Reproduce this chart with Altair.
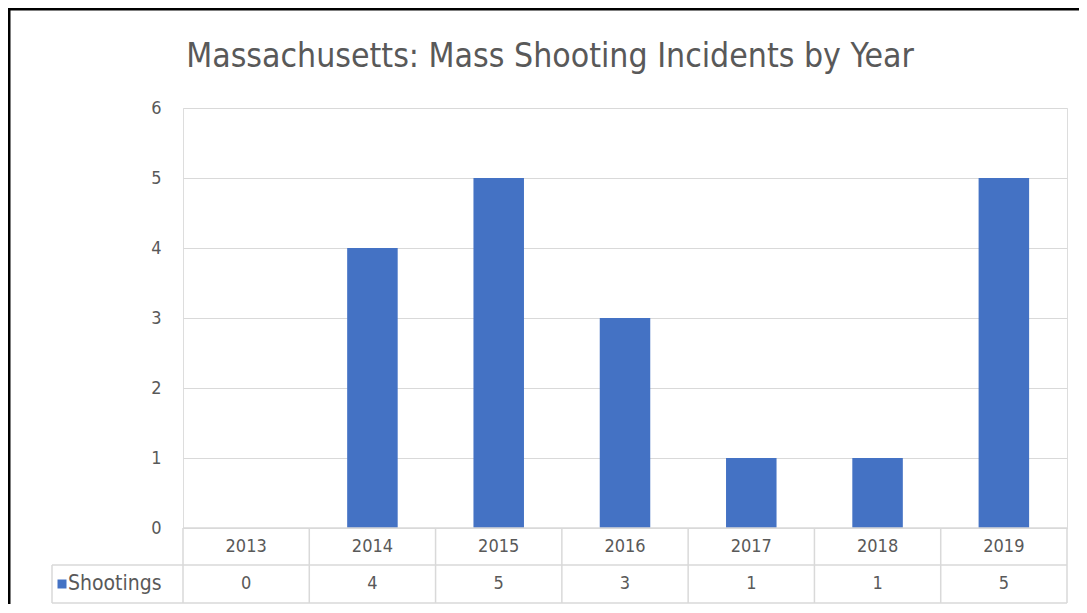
import altair as alt
import pandas as pd

years = ["2013", "2014", "2015", "2016", "2017", "2018", "2019"]
shootings = [0, 4, 5, 3, 1, 1, 5]
series_name = ["Shootings"]
y_ticks = [0, 1, 2, 3, 4, 5, 6]
title_text = ["Massachusetts: Mass Shooting Incidents by Year"]

df = pd.DataFrame({"year": years, "value": shootings})
legend_df = pd.DataFrame({"series": series_name})
title_df = pd.DataFrame({"t": title_text})

W, H = 884, 420
FONT = '"DejaVu Sans Condensed", "Open Sans", sans-serif'
GRAY = "#595959"
LINE = "#d9d9d9"
BLUE = "#4472C4"
FS = 18

ROW1_Y = H + 19
ROW2_Y = H + 56
ROW_TOP = H
ROW_MID = H + 37
ROW_BOT = H + 75
LEFT_COL = -131

base = alt.Chart(df)

bars = base.mark_bar(color=BLUE).encode(
    x=alt.X("year:N", sort=years, axis=None,
            scale=alt.Scale(paddingInner=0.6, paddingOuter=0.3)),
    y=alt.Y("value:Q", scale=alt.Scale(domain=[0, 6], nice=False),
            axis=alt.Axis(values=y_ticks, title=None, domain=False, ticks=False,
                          grid=True, gridColor=LINE, gridWidth=1,
                          labelFont=FONT, labelFontSize=FS, labelColor=GRAY,
                          labelPadding=22)),
)

xcell = alt.X("year:N", sort=years, axis=None,
              scale=alt.Scale(paddingInner=0, paddingOuter=0))

year_text = base.mark_text(font=FONT, fontSize=FS, color=GRAY, baseline="middle").encode(
    x=xcell, y=alt.value(ROW1_Y), text="year:N")
val_text = base.mark_text(font=FONT, fontSize=FS, color=GRAY, baseline="middle").encode(
    x=xcell, y=alt.value(ROW2_Y), text="value:Q")

vlines = base.mark_rule(color=LINE, strokeWidth=1.5).encode(
    x=alt.X("year:N", sort=years, axis=None, bandPosition=0,
            scale=alt.Scale(paddingInner=0, paddingOuter=0)),
    y=alt.value(ROW_TOP), y2=alt.value(ROW_BOT))
vline_last = base.transform_filter(alt.datum.year == years[-1]).mark_rule(
    color=LINE, strokeWidth=1.5).encode(
    x=alt.X("year:N", sort=years, axis=None, bandPosition=1,
            scale=alt.Scale(paddingInner=0, paddingOuter=0)),
    y=alt.value(ROW_TOP), y2=alt.value(ROW_BOT))

leg = alt.Chart(legend_df)
hline_top = leg.mark_rule(color=LINE, strokeWidth=1.5).encode(
    x=alt.value(0), x2=alt.value(W), y=alt.value(ROW_TOP))
hline_mid = leg.mark_rule(color=LINE, strokeWidth=1.5).encode(
    x=alt.value(LEFT_COL), x2=alt.value(W), y=alt.value(ROW_MID))
hline_bot = leg.mark_rule(color=LINE, strokeWidth=1.5).encode(
    x=alt.value(LEFT_COL), x2=alt.value(W), y=alt.value(ROW_BOT))
vline_left = leg.mark_rule(color=LINE, strokeWidth=1.5).encode(
    x=alt.value(LEFT_COL), y=alt.value(ROW_MID), y2=alt.value(ROW_BOT))

leg_sq = leg.mark_square(color=BLUE, size=81, opacity=1).encode(
    x=alt.value(LEFT_COL + 10), y=alt.value(ROW2_Y))
leg_txt = leg.mark_text(font=FONT, fontSize=21, color=GRAY, align="left",
                        baseline="middle").encode(
    x=alt.value(LEFT_COL + 16), y=alt.value(ROW2_Y), text="series:N")

title_mark = alt.Chart(title_df).mark_text(
    font=FONT, fontSize=33.5, color=GRAY, align="center", baseline="alphabetic"
).encode(x=alt.value(367), y=alt.value(-41), text="t:N")

frame_top = leg.mark_rule(color="black", strokeWidth=3).encode(
    x=alt.value(-175), x2=alt.value(W + 12), y=alt.value(-99))
frame_left = leg.mark_rule(color="black", strokeWidth=3).encode(
    x=alt.value(-174), y=alt.value(-100), y2=alt.value(H + 76))

chart = alt.layer(
    bars, year_text, val_text, vlines, vline_last,
    hline_top, hline_mid, hline_bot, vline_left, leg_sq, leg_txt,
    title_mark, frame_top, frame_left,
).resolve_scale(x="independent").properties(
    width=W, height=H,
    autosize=alt.AutoSizeParams(type="none"),
    padding={"left": 175, "top": 100, "right": 12, "bottom": 76},
).configure_view(stroke=None).configure(background="white")

chart.save("out.html", embed_options={"renderer": "svg", "actions": False})
